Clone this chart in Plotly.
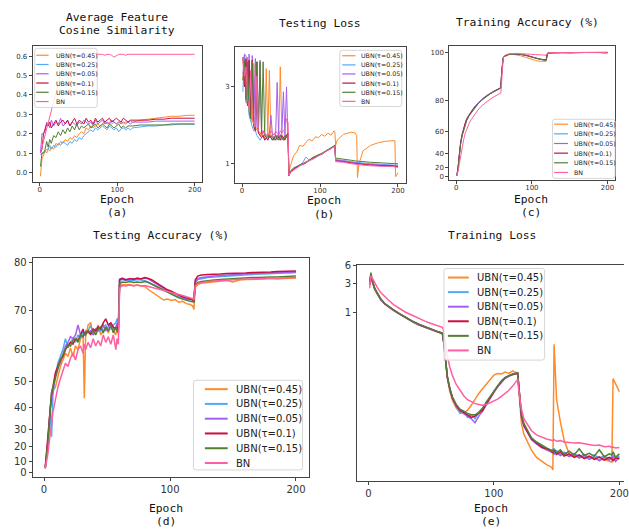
import plotly.graph_objects as go

W, H = 629, 531
NAMES = ["UBN(τ=0.45)", "UBN(τ=0.25)", "UBN(τ=0.05)", "UBN(τ=0.1)", "UBN(τ=0.15)", "BN"]
COLORS = ["#ff8a2a", "#52aaf5", "#a55ff0", "#c8103f", "#527f34", "#ff5fa0"]

# ---------------- (a) Average Feature Cosine Similarity ----------------
epochs_a = [1, 3, 5, 7, 9, 11, 13, 15, 18, 21, 24, 27, 30, 33, 36, 39, 42, 45, 48, 51, 54, 57, 60, 63, 66, 69,
            72, 75, 78, 81, 84, 87, 90, 93, 96, 99, 102, 105, 108, 111, 114, 117, 120, 130, 140, 150, 160, 170,
            180, 190, 200]
cos_045 = [-0.02, 0.07, 0.09, 0.11, 0.10, 0.12, 0.11, 0.13,
           0.12, 0.15, 0.14, 0.16, 0.15, 0.17, 0.16, 0.18, 0.17, 0.19,
           0.18, 0.20, 0.21, 0.20, 0.23, 0.22, 0.24, 0.23, 0.24, 0.25,
           0.24, 0.25, 0.26, 0.25, 0.26, 0.25, 0.26, 0.25, 0.26, 0.26,
           0.255, 0.26, 0.26, 0.265, 0.26,
           0.27, 0.275, 0.28, 0.285, 0.29, 0.29, 0.295, 0.295]
cos_025 = [0.09, 0.10, 0.10, 0.11, 0.12, 0.12, 0.14, 0.12,
           0.14, 0.13, 0.15, 0.14, 0.16, 0.15, 0.14, 0.16, 0.15, 0.17,
           0.16, 0.18, 0.17, 0.19, 0.20, 0.21, 0.22, 0.21, 0.23, 0.22,
           0.23, 0.24, 0.23, 0.22, 0.24, 0.23, 0.22, 0.23, 0.21, 0.225,
           0.23, 0.22, 0.23, 0.22, 0.23,
           0.235, 0.24, 0.24, 0.245, 0.245, 0.25, 0.25, 0.25]
cos_005 = [0.10, 0.20, 0.20, 0.21, 0.26, 0.25, 0.23, 0.27,
           0.24, 0.26, 0.25, 0.28, 0.24, 0.25, 0.27, 0.24, 0.26, 0.25,
           0.24, 0.26, 0.25, 0.27, 0.26, 0.25, 0.26, 0.24, 0.27, 0.25,
           0.26, 0.27, 0.25, 0.26, 0.25, 0.27, 0.26, 0.25, 0.26, 0.25,
           0.26, 0.25, 0.26, 0.25, 0.26,
           0.26, 0.26, 0.265, 0.265, 0.265, 0.265, 0.265, 0.265]
cos_01 = [0.10, 0.12, 0.20, 0.22, 0.25, 0.24, 0.26, 0.23,
          0.25, 0.27, 0.24, 0.26, 0.27, 0.25, 0.27, 0.24, 0.26, 0.28,
          0.25, 0.27, 0.26, 0.25, 0.28, 0.26, 0.27, 0.25, 0.28, 0.26,
          0.27, 0.28, 0.26, 0.27, 0.28, 0.26, 0.27, 0.28, 0.27, 0.26,
          0.28, 0.27, 0.26, 0.27, 0.27,
          0.27, 0.27, 0.275, 0.275, 0.28, 0.28, 0.28, 0.28]
cos_015 = [0.03, 0.10, 0.10, 0.12, 0.16, 0.13, 0.17, 0.15,
           0.19, 0.18, 0.21, 0.19, 0.22, 0.20, 0.23, 0.21, 0.24, 0.22,
           0.25, 0.22, 0.24, 0.23, 0.24, 0.25, 0.23, 0.24, 0.25, 0.23,
           0.24, 0.25, 0.24, 0.23, 0.25, 0.24, 0.23, 0.24, 0.25, 0.23,
           0.24, 0.23, 0.24, 0.24, 0.24,
           0.245, 0.245, 0.245, 0.245, 0.25, 0.25, 0.25, 0.25]
cos_bn = [0.10, 0.13, 0.16, 0.19, 0.22, 0.25, 0.28, 0.31,
          0.36, 0.41, 0.46, 0.51, 0.55, 0.58, 0.60, 0.61, 0.61, 0.61,
          0.605, 0.61, 0.61, 0.605, 0.61, 0.61, 0.61, 0.605, 0.61, 0.61,
          0.61, 0.61, 0.605, 0.61, 0.61, 0.605, 0.595, 0.605, 0.61, 0.61,
          0.61, 0.605, 0.61, 0.61, 0.61,
          0.61, 0.61, 0.61, 0.61, 0.61, 0.61, 0.61, 0.61]

# ---------------- (b) Testing Loss ----------------
epochs_b = [1, 3, 5, 7, 9, 11, 13, 15, 17, 19, 21, 23, 25, 27, 29, 31, 33, 35, 37, 39, 41, 43, 45, 47, 49, 51,
            53, 55, 57, 59,
            60, 62, 66, 70, 74, 78, 82, 86, 90, 94, 98, 102, 106, 110, 114, 118, 119,
            120, 122, 130, 140, 145, 147, 148, 150, 155, 165, 175, 185, 194, 196, 197, 200]
tl_045 = [3.3, 4.6, 2.5, 2.3, 4.4, 2.0, 1.8, 4.2, 1.7, 1.6, 1.55, 1.5, 1.6, 1.5, 1.45, 3.9, 1.5, 3.8, 1.45, 1.5,
          1.4, 1.5, 1.45, 1.45, 4.0, 1.5, 1.4, 1.45, 1.5, 1.55,
          0.88, 0.97, 1.12, 1.18, 1.3, 1.28, 1.36, 1.42, 1.38, 1.47, 1.45, 1.52, 1.48, 1.55, 1.5, 1.6, 1.57,
          1.3, 1.4, 1.52, 1.57, 1.55, 1.5, 0.82, 1.0, 1.2, 1.3, 1.35, 1.38, 1.4, 1.39, 0.83, 0.88]
tl_025 = [2.8, 4.7, 2.4, 4.6, 2.0, 1.8, 1.7, 1.6, 1.6, 1.5, 1.45, 1.4, 1.45, 1.5, 1.4, 1.45, 1.4, 1.5, 1.45, 1.4,
          1.45, 1.5, 1.4, 1.45, 1.5, 1.4, 1.45, 1.5, 1.45, 1.5,
          0.86, 0.9, 0.93, 0.95, 0.98, 1.02, 1.1, 1.05, 1.06, 1.09, 1.12, 1.14, 1.17, 1.2, 1.24, 1.28, 1.3,
          1.06, 1.06, 1.05, 1.03, 1.02, 1.02, 1.02, 1.01, 1.01, 1.0, 0.99, 0.99, 0.98, 0.98, 0.98, 0.98]
tl_005 = [3.6, 4.8, 4.7, 2.3, 4.8, 2.0, 4.7, 1.8, 4.5, 1.7, 1.6, 4.4, 1.55, 1.6, 1.5, 1.5, 1.45, 1.55, 2.0, 1.5,
          1.45, 1.5, 3.2, 1.45, 1.5, 1.55, 2.8, 1.5, 3.0, 1.5,
          0.85, 0.89, 0.92, 0.96, 0.97, 1.0, 1.02, 1.04, 1.08, 1.1, 1.12, 1.15, 1.18, 1.21, 1.25, 1.27, 1.29,
          1.05, 1.05, 1.04, 1.02, 1.01, 1.01, 1.01, 1.0, 1.0, 0.99, 0.98, 0.98, 0.97, 0.97, 0.97, 0.97]
tl_01 = [4.6, 3.0, 4.5, 2.3, 4.4, 1.9, 4.4, 1.7, 1.6, 4.3, 1.55, 1.5, 1.45, 1.5, 1.4, 1.45, 1.4, 1.5, 1.45, 1.4,
         1.45, 1.4, 1.5, 1.45, 1.4, 1.5, 1.45, 1.4, 1.5, 1.55,
         0.84, 0.88, 0.92, 0.95, 0.98, 0.99, 1.01, 1.05, 1.07, 1.1, 1.13, 1.14, 1.18, 1.22, 1.24, 1.28, 1.3,
         1.04, 1.04, 1.03, 1.01, 1.0, 1.0, 1.0, 0.99, 0.99, 0.98, 0.97, 0.97, 0.97, 0.96, 0.96, 0.96]
tl_015 = [3.3, 4.4, 2.5, 4.3, 2.1, 1.9, 4.3, 1.7, 1.65, 4.3, 1.6, 4.3, 1.5, 4.3, 1.5, 1.45, 1.5, 1.45, 1.5, 1.45,
          1.4, 1.5, 1.45, 1.4, 1.5, 1.45, 1.4, 1.5, 1.45, 1.5,
          0.87, 0.9, 0.94, 0.96, 0.98, 1.0, 1.03, 1.05, 1.09, 1.11, 1.13, 1.16, 1.19, 1.22, 1.26, 1.29, 1.31,
          1.08, 1.08, 1.07, 1.05, 1.04, 1.04, 1.04, 1.03, 1.03, 1.02, 1.01, 1.01, 1.0, 1.0, 1.0, 1.0]
tl_bn = [4.5, 3.5, 4.0, 2.5, 2.2, 3.8, 1.9, 1.8, 1.7, 3.5, 1.6, 1.55, 1.5, 1.6, 1.55, 1.5, 1.55, 1.5, 1.6, 1.55,
         1.5, 1.6, 1.55, 1.5, 1.6, 1.55, 1.6, 1.65, 1.9, 1.8,
         0.85, 0.88, 0.91, 0.94, 0.97, 1.0, 1.02, 1.04, 1.07, 1.09, 1.12, 1.15, 1.17, 1.2, 1.23, 1.27, 1.28,
         1.03, 1.03, 1.02, 1.0, 0.99, 0.99, 0.99, 0.98, 0.98, 0.97, 0.96, 0.96, 0.96, 0.95, 0.95, 0.95]

# ---------------- (c) Training Accuracy (%) ----------------
epochs_c = [1, 2, 3, 4, 5, 6, 8, 10, 12, 14, 17, 20, 25, 30, 35, 40, 45, 50, 55, 58,
            59, 60, 61, 62, 63, 65, 70, 75, 80, 85, 90, 95, 100, 105, 110, 115, 118, 119, 120, 121,
            122, 125, 130, 140, 150, 160, 170, 180, 190, 200]
tra_045 = [3, 12, 25, 36, 45, 51, 58, 62.5, 66, 69, 71.5, 73.5, 76.5, 78.8, 80.5, 82, 83.3, 84.3, 85.2, 85.8,
           86, 92, 97, 98, 98.4, 98.7, 99.2, 99.3, 99.1, 98.8, 98.4, 97.9, 97.5, 97.1, 96.8, 96.7, 96.6, 96.8, 99.2, 99.6,
           99.7, 99.8, 99.85, 99.85, 99.6, 99.85, 99.9, 99.9, 99.85, 99.5]
tra_025 = [3, 13, 26, 37, 46, 52, 58.5, 63.5, 66, 69.5, 72, 73.8, 76.8, 79, 80.8, 82.2, 83.5, 84.5, 85.3, 85.9,
           86.1, 92, 97, 98, 98.4, 98.8, 99.3, 99.4, 99.3, 99.2, 99, 98.7, 98.3, 97.9, 97.5, 97.2, 97.1, 97.2, 99.3, 99.7,
           99.8, 99.85, 99.9, 99.9, 99.92, 99.93, 99.94, 99.95, 99.95, 99.95]
tra_005 = [3, 12.5, 25.5, 36.5, 45.5, 51.5, 58.2, 63.2, 66.3, 69.2, 71.8, 73.6, 76.6, 78.9, 80.6, 82.1, 83.4, 84.4, 85.2, 85.9,
           86, 92, 97, 98, 98.5, 98.8, 99.3, 99.4, 99.4, 99.3, 99.1, 98.8, 98.4, 98, 97.6, 97.3, 97.2, 97.3, 99.3, 99.7,
           99.8, 99.85, 99.9, 99.9, 99.92, 99.93, 99.94, 99.95, 99.95, 99.95]
tra_01 = [3, 12, 25, 36, 45, 51, 58, 63, 66.5, 69, 71.5, 73.5, 76.5, 78.8, 80.5, 82, 83.3, 84.3, 85.2, 85.8,
          86, 92, 97, 98, 98.5, 98.8, 99.3, 99.4, 99.4, 99.3, 99.1, 98.8, 98.4, 98, 97.6, 97.3, 97.2, 97.3, 99.3, 99.7,
          99.8, 99.85, 99.9, 99.9, 99.92, 99.93, 99.94, 99.95, 99.95, 99.95]
tra_015 = [3, 11, 24, 35, 44, 50, 57, 61, 65, 68, 71, 73, 76, 78.5, 80.3, 81.8, 83.1, 84.1, 85, 85.6,
           85.8, 91.5, 97, 98, 98.5, 98.9, 99.3, 99.4, 99.4, 99.3, 99.1, 98.8, 98.3, 97.9, 97.5, 97.2, 97.1, 97.2, 99.3, 99.7,
           99.8, 99.85, 99.9, 99.9, 99.92, 99.93, 99.94, 99.95, 99.95, 99.95]
tra_bn = [2, 8, 16, 24, 31, 37, 47, 54, 59, 62.5, 66, 68.8, 72.5, 75.3, 77.3, 79, 80.5, 81.7, 82.7, 83.3,
          83.5, 88, 95, 97.5, 98.5, 99, 99.5, 99.6, 99.6, 99.5, 99.5, 99.4, 99.3, 99.2, 99.1, 99, 98.9, 99, 99.6, 99.8,
          99.85, 99.9, 99.92, 99.93, 99.94, 99.95, 99.95, 99.96, 99.96, 99.96]

# ---------------- (d) Testing Accuracy (%) ----------------
epochs_d = [1, 3, 5, 6, 7, 9, 11, 13, 15, 17, 19, 21, 23, 25, 27, 29, 31, 32, 33, 35,
            37, 39, 41, 43, 45, 47, 49, 51, 53, 55, 57, 58, 59,
            60, 62, 65, 68, 71, 74, 77, 80, 83, 86, 89, 92, 95, 98, 101, 104, 107,
            110, 113, 116, 118, 119,
            120, 122, 125, 130, 135, 140, 145, 150, 155, 160, 165, 170, 175, 180, 185, 190, 195, 200]
tea_045 = [5, 23, 40, 45, 47, 48, 52, 55, 57, 59, 58, 60.5, 58, 61, 60, 63, 64, 44, 63.5, 66.5,
           67, 64, 65, 66.5, 64, 65, 66, 64.5, 66, 65, 64, 66, 65,
           75.3, 75.6, 75.5, 75.6, 75.4, 75.5, 75.3, 75.2, 74.5, 74, 73.5, 73, 72.3, 72.5, 72.2, 72.4, 71.8,
           72, 71.5, 71.3, 71, 70.2,
           75, 75.6, 75.9, 76, 76.1, 76.3, 76.4, 76.1, 76.5, 76.6, 76.6, 76.7, 76.7, 76.8, 76.7, 76.8, 76.8, 76.9]
tea_025 = [5, 20, 38, 26, 45, 52, 56, 58, 60, 63, 60.5, 62, 63, 62, 64, 63, 65, 64, 64.5, 65,
           66.5, 64, 65, 66, 65, 66, 66.5, 65, 66, 66.5, 67, 68, 67,
           76.5, 76.6, 76.4, 76.5, 76.4, 76.6, 76.5, 76.4, 76, 75.6, 75.2, 74.8, 74.4, 74, 73.6, 73.2, 72.9,
           72.6, 72.4, 72.3, 72.5, 72.2,
           76, 76.6, 76.8, 77, 77.1, 77.2, 77.3, 77.4, 77.5, 77.5, 77.6, 77.7, 77.7, 77.8, 77.8, 77.9, 77.9, 78]
tea_005 = [5, 22, 40, 45, 47, 52, 55, 56, 59, 61, 62, 63.5, 63, 64, 66.5, 64, 63.5, 64, 65, 64.5,
           65, 64, 65.5, 65, 66, 66.5, 65, 66, 67, 65.5, 66, 67, 66,
           76.7, 76.9, 76.6, 76.7, 76.8, 76.6, 76.8, 76.9, 76.7, 76.2, 75.7, 75.3, 74.8, 74.3, 74, 73.6, 73.2,
           72.9, 72.6, 72.5, 72.6, 72.4,
           76, 76.8, 77, 77.2, 77.3, 77.4, 77.5, 77.6, 77.7, 77.7, 77.8, 77.8, 77.9, 77.9, 78, 78, 78, 78.1]
tea_01 = [5, 25, 42, 46, 48, 53, 55, 57, 58, 60, 61, 62, 61.5, 63, 62.5, 64, 65.5, 64, 64.5, 65,
          64, 65.5, 65, 66, 65.5, 67, 68, 66.5, 67, 66, 65.5, 66, 65,
          76.5, 76.8, 76.5, 76.8, 76.6, 76.9, 76.7, 77, 76.8, 76.5, 76, 75.5, 75, 74.5, 74.2, 73.8, 73.5,
          73, 72.8, 72.5, 72.3, 72,
          76.5, 77.3, 77.5, 77.6, 77.6, 77.7, 77.8, 77.8, 77.9, 77.9, 78, 78, 78.1, 78.1, 78.2, 78.2, 78.3, 78.3]
tea_015 = [4, 22, 40, 46, 48, 51, 54, 57, 58.5, 60, 61.5, 61, 62.5, 63, 62, 64, 63.5, 64.5, 64, 65,
           64.5, 65, 64, 65.5, 66, 64.5, 66, 65, 66.5, 64.5, 66, 65, 64.5,
           75.8, 76.1, 76, 76.2, 76, 76.1, 76, 76.2, 76, 75.6, 75.2, 74.7, 74.3, 73.9, 73.5, 73.1, 72.8,
           72.5, 72.2, 72, 71.9, 71.8,
           75.5, 76, 76.2, 76.4, 76.5, 76.6, 76.7, 76.8, 76.9, 76.9, 77, 77, 77.1, 77.1, 77.1, 77.2, 77.2, 77.3]
tea_bn = [4, 15, 28, 32, 38, 44, 48, 51, 53.5, 56, 55, 57.5, 59, 57, 60, 61, 59, 61.5, 60, 62,
          60.5, 63, 61, 62.5, 61, 64, 62, 63.5, 61.5, 64, 60, 63, 61.5,
          74.8, 75.4, 75.3, 75.5, 75.3, 75.5, 75.3, 75.4, 75.2, 75, 74.8, 74.6, 74.4, 74.2, 74, 73.8, 73.6,
          73.3, 73, 72.8, 72.6, 72.4,
          75.2, 75.8, 76, 76.2, 76.3, 76.4, 76.5, 76.6, 76.6, 76.7, 76.7, 76.8, 76.8, 76.9, 76.9, 76.9, 77, 77]

# ---------------- (e) Training Loss ----------------
epochs_e = [1, 2, 3, 5, 7, 10, 13, 16, 20, 25, 30, 35, 40, 45, 50, 55, 58, 59,
            60, 61, 62, 63, 65, 67, 70, 73, 76, 79, 82, 85, 88, 91, 94, 97, 100, 103, 106, 109, 112, 115, 118, 119,
            120, 121, 122, 124, 127, 130, 134, 138, 142, 146, 147, 148, 150, 153, 156, 160, 164, 168, 172, 176,
            180, 184, 188, 192, 194, 195, 197, 200]
trl_045 = [2.5, 4.0, 3.2, 2.4, 2.0, 1.6, 1.38, 1.23, 1.08, 0.94, 0.81, 0.71, 0.63, 0.57, 0.52, 0.48, 0.46, 0.45,
           0.33, 0.19, 0.12, 0.082, 0.05, 0.036, 0.027, 0.023, 0.022, 0.025, 0.03, 0.038, 0.047, 0.056, 0.066, 0.078,
           0.094, 0.1, 0.098, 0.105, 0.1, 0.11, 0.104, 0.1,
           0.05, 0.025, 0.015, 0.01, 0.0075, 0.0055, 0.0042, 0.0036, 0.0032, 0.0029, 0.0026, 0.30, 0.037, 0.016,
           0.008, 0.0048, 0.0044, 0.0046, 0.0041, 0.0043, 0.004, 0.0038, 0.0039, 0.0036, 0.0035, 0.082, 0.068, 0.05]
trl_025 = [2.9, 4.1, 3.3, 2.45, 2.05, 1.62, 1.39, 1.24, 1.09, 0.94, 0.81, 0.71, 0.63, 0.57, 0.52, 0.48, 0.46, 0.45,
           0.33, 0.19, 0.12, 0.085, 0.055, 0.04, 0.029, 0.022, 0.024, 0.019, 0.021, 0.018, 0.023, 0.026, 0.033, 0.041,
           0.05, 0.062, 0.073, 0.084, 0.091, 0.097, 0.1, 0.1,
           0.055, 0.03, 0.02, 0.014, 0.0108, 0.0084, 0.0071, 0.0064, 0.0057, 0.0052, 0.0058, 0.005, 0.0054, 0.0047,
           0.0051, 0.0045, 0.0049, 0.0043, 0.0047, 0.0042, 0.0046, 0.0041, 0.0044, 0.004, 0.0043, 0.0045, 0.004, 0.0044]
trl_005 = [2.8, 4.0, 3.3, 2.4, 2.05, 1.6, 1.38, 1.23, 1.08, 0.94, 0.81, 0.71, 0.63, 0.57, 0.52, 0.48, 0.46, 0.45,
           0.33, 0.19, 0.12, 0.085, 0.054, 0.039, 0.029, 0.024, 0.022, 0.02, 0.018, 0.0155, 0.02, 0.024, 0.031, 0.04,
           0.049, 0.06, 0.072, 0.083, 0.09, 0.096, 0.099, 0.1,
           0.055, 0.03, 0.019, 0.0135, 0.0105, 0.0082, 0.007, 0.0061, 0.0056, 0.0051, 0.0055, 0.0047, 0.005, 0.0045,
           0.0049, 0.0043, 0.0047, 0.0041, 0.0045, 0.0039, 0.0043, 0.0037, 0.0042, 0.0038, 0.0041, 0.0043, 0.0036, 0.0042]
trl_01 = [3.2, 4.2, 3.4, 2.5, 2.1, 1.65, 1.4, 1.25, 1.1, 0.95, 0.82, 0.72, 0.64, 0.58, 0.53, 0.48, 0.46, 0.45,
          0.33, 0.19, 0.12, 0.085, 0.055, 0.04, 0.03, 0.025, 0.023, 0.021, 0.019, 0.02, 0.022, 0.025, 0.032, 0.04,
          0.05, 0.062, 0.074, 0.085, 0.092, 0.097, 0.1, 0.1,
          0.055, 0.03, 0.02, 0.014, 0.011, 0.0085, 0.0072, 0.0062, 0.0058, 0.0054, 0.0049, 0.0056, 0.0047, 0.0052,
          0.0044, 0.0048, 0.0042, 0.0046, 0.004, 0.0044, 0.0039, 0.0043, 0.0038, 0.0042, 0.004, 0.0037, 0.0041, 0.004]
trl_015 = [3.0, 4.5, 3.5, 2.5, 2.1, 1.65, 1.4, 1.25, 1.1, 0.95, 0.82, 0.72, 0.64, 0.58, 0.53, 0.49, 0.47, 0.46,
           0.34, 0.2, 0.125, 0.088, 0.056, 0.041, 0.031, 0.026, 0.024, 0.022, 0.021, 0.021, 0.023, 0.027, 0.034, 0.042,
           0.052, 0.064, 0.076, 0.086, 0.093, 0.098, 0.102, 0.103,
           0.058, 0.032, 0.021, 0.015, 0.0115, 0.0088, 0.0075, 0.0066, 0.006, 0.0055, 0.0052, 0.0058, 0.005, 0.0056,
           0.0047, 0.0053, 0.0046, 0.0058, 0.0045, 0.0049, 0.0044, 0.0056, 0.0043, 0.0048, 0.0046, 0.0052, 0.0042, 0.0048]
trl_bn = [2.8, 4.0, 3.7, 3.0, 2.6, 2.1, 1.8, 1.6, 1.35, 1.15, 1.0, 0.9, 0.8, 0.72, 0.66, 0.6, 0.58, 0.57,
          0.5, 0.36, 0.26, 0.19, 0.125, 0.092, 0.066, 0.052, 0.043, 0.037, 0.034, 0.032, 0.031, 0.03, 0.031, 0.033,
          0.035, 0.038, 0.042, 0.047, 0.053, 0.062, 0.075, 0.08,
          0.05, 0.035, 0.026, 0.018, 0.0145, 0.0115, 0.0098, 0.009, 0.0084, 0.008, 0.0079, 0.0082, 0.0077, 0.0079,
          0.0075, 0.0074, 0.0072, 0.0073, 0.007, 0.0068, 0.0066, 0.0067, 0.0063, 0.0064, 0.0061, 0.0062, 0.006, 0.0061]

ACC_TICKS = [0, 10, 20, 30, 40, 50, 60, 70, 80]
TRAIN_ACC_TICKS = [0, 20, 40, 60, 80, 100]


def acc_scale(vals):
    # emulate the exponential-type y scale of the accuracy panels
    return [1.5 ** (v / 20.0) for v in vals]


panels = [
    ("", epochs_a, [cos_045, cos_025, cos_005, cos_01, cos_015, cos_bn], None, 1.0),
    ("2", epochs_b, [tl_045, tl_025, tl_005, tl_01, tl_015, tl_bn], None, 1.0),
    ("3", epochs_c, [tra_045, tra_025, tra_005, tra_01, tra_015, tra_bn], acc_scale, 1.0),
    ("4", epochs_d, [tea_045, tea_025, tea_005, tea_01, tea_015, tea_bn], acc_scale, 1.5),
    ("5", epochs_e, [trl_045, trl_025, trl_005, trl_01, trl_015, trl_bn], None, 1.5),
]

fig = go.Figure()
for suffix, xs, series, tf, lw in panels:
    for name, col, ys in zip(NAMES, COLORS, series):
        if len(ys) != len(xs):
            raise ValueError(f"panel {suffix} {name}: {len(ys)} vs {len(xs)}")
        fig.add_trace(go.Scatter(x=xs, y=tf(ys) if tf else ys, mode="lines", name=name,
                                 line=dict(color=col, width=lw), showlegend=False, hoverinfo="skip",
                                 xaxis="x" + suffix, yaxis="y" + suffix))


def fx(p):
    return p / W


def fy(p):
    return 1 - p / H


AX = dict(showline=True, linecolor="#444", linewidth=1, mirror=True, ticks="outside", ticklen=3,
          tickcolor="#444", showgrid=False, zeroline=False)


def axis(x0, x1, y0, y1, suffix, xr, yr, fs, ykw, xkw=None):
    xk = dict(AX, domain=[fx(x0), fx(x1)], range=xr, anchor="y" + suffix, tickvals=[0, 100, 200],
              tickfont=dict(family="DejaVu Sans", size=fs, color="#333"))
    if xkw:
        xk.update(xkw)
    yk = dict(AX, domain=[fy(y1), fy(y0)], range=yr, anchor="x" + suffix,
              tickfont=dict(family="DejaVu Sans", size=fs, color="#333"))
    yk.update(ykw)
    fig.update_layout({"xaxis" + suffix: xk, "yaxis" + suffix: yk})


XR = [-8.95, 209.95]
SMALLX = dict(ticklabelstandoff=-3)
axis(33, 204, 41, 179, "", XR, [-0.051, 0.651], 7,
     dict(tickvals=[0, 0.1, 0.2, 0.3, 0.4, 0.5, 0.6], ticktext=["0.0", "0.1", "0.2", "0.3", "0.4", "0.5", "0.6"]),
     SMALLX)
axis(237, 409, 42, 180, "2", XR, [-0.122, 0.723], 7,
     dict(type="log", tickvals=[1, 3], ticktext=["1", "3"]), SMALLX)
axis(453, 620, 41, 177, "3", XR, [0.807, 7.907], 7,
     dict(tickvals=acc_scale(TRAIN_ACC_TICKS), ticktext=[str(t) for t in TRAIN_ACC_TICKS]), SMALLX)
axis(33, 311, 256, 478, "4", XR, [0.924, 5.138], 10,
     dict(tickvals=acc_scale(ACC_TICKS), ticktext=[str(t) for t in ACC_TICKS]))
axis(360, 629, 263, 482, "5", [-8.95, 203.7], [-2.76, 0.778], 10,
     dict(type="log", tickvals=[1, 3, 6], ticktext=["1", "3", "6"], mirror=False),
     dict(ticklabeloverflow="allow"))

MONO = "DejaVu Sans Mono"
ann = []


def text(x, y, s, size, family=MONO, anchor="center", color="#111"):
    ann.append(dict(x=fx(x), y=fy(y), xref="paper", yref="paper", text=s, showarrow=False,
                    xanchor=anchor, yanchor="middle", font=dict(family=family, size=size, color=color)))


# titles
text(118, 12, "Average Feature", 11.3)
text(118, 25, "Cosine Similarity", 11.3)
text(323, 18, "Testing Loss", 11.3)
text(532, 17, "Training Accuracy (%)", 11.3)
text(162, 233, "Testing Accuracy (%)", 11.3)
text(496, 233, "Training Loss", 11.3)
# x labels
for cx, y1, y2, lab in [(118, 196, 210, "(a)"), (327, 197, 212, "(b)"), (535, 196, 210, "(c)"),
                        (167, 510, 523, "(d)"), (495, 510, 523, "(e)")]:
    text(cx, y1, "Epoch", 11.3)
    text(cx, y2, lab, 11.3)

shapes = []


def legend(bx0, by0, bx1, by1, lx0, lx1, tx, ys, fs, lw):
    r = 2.5
    pts = [(bx0 + r, by0), (bx1 - r, by0), (bx1, by0 + r), (bx1, by1 - r), (bx1 - r, by1), (bx0 + r, by1),
           (bx0, by1 - r), (bx0, by0 + r)]
    P = lambda p: f"{fx(p[0]):.5f},{fy(p[1]):.5f}"
    path = (f"M {P(pts[0])} L {P(pts[1])} Q {P((bx1, by0))} {P(pts[2])} L {P(pts[3])} "
            f"Q {P((bx1, by1))} {P(pts[4])} L {P(pts[5])} Q {P((bx0, by1))} {P(pts[6])} "
            f"L {P(pts[7])} Q {P((bx0, by0))} {P(pts[0])} Z")
    shapes.append(dict(type="path", path=path, xref="paper", yref="paper", layer="above",
                       fillcolor="rgba(255,255,255,0.85)", line=dict(color="#d6d6d6", width=1)))
    for y, col, name in zip(ys, COLORS, NAMES):
        shapes.append(dict(type="line", xref="paper", yref="paper", layer="above",
                           x0=fx(lx0), x1=fx(lx1), y0=fy(y), y1=fy(y), line=dict(color=col, width=lw)))
        text(tx, y, name, fs, family="DejaVu Sans", anchor="left", color="#222")


legend(35, 43, 98, 103, 36.5, 49, 54, [50, 59.4, 68.8, 78.2, 87.6, 97], 6.3, 1.2)
legend(342.5, 45, 405, 102, 345, 358.3, 362, [50.5, 59.8, 69, 78.3, 87.6, 96.8], 6.3, 1.2)
legend(557, 115, 620, 175, 558.5, 572.5, 576.5, [120, 129.8, 139.6, 149.4, 159.2, 169], 6.3, 1.2)
legend(195, 380, 305, 471, 206.5, 229.5, 236, [389, 404, 419, 434, 449, 464], 10, 2)
legend(447.5, 266.5, 549, 359.5, 451.5, 472.5, 479, [275.7, 290.5, 305.3, 320.1, 334.9, 349.7], 10, 2)

fig.update_layout(width=W, height=H, margin=dict(l=0, r=0, t=0, b=0), autosize=False,
                  paper_bgcolor="white", plot_bgcolor="white", showlegend=False,
                  annotations=ann, shapes=shapes)
fig.write_html("out.html", config={"displayModeBar": False},
               post_script="document.body.style.margin='0';document.body.style.overflow='hidden';")
